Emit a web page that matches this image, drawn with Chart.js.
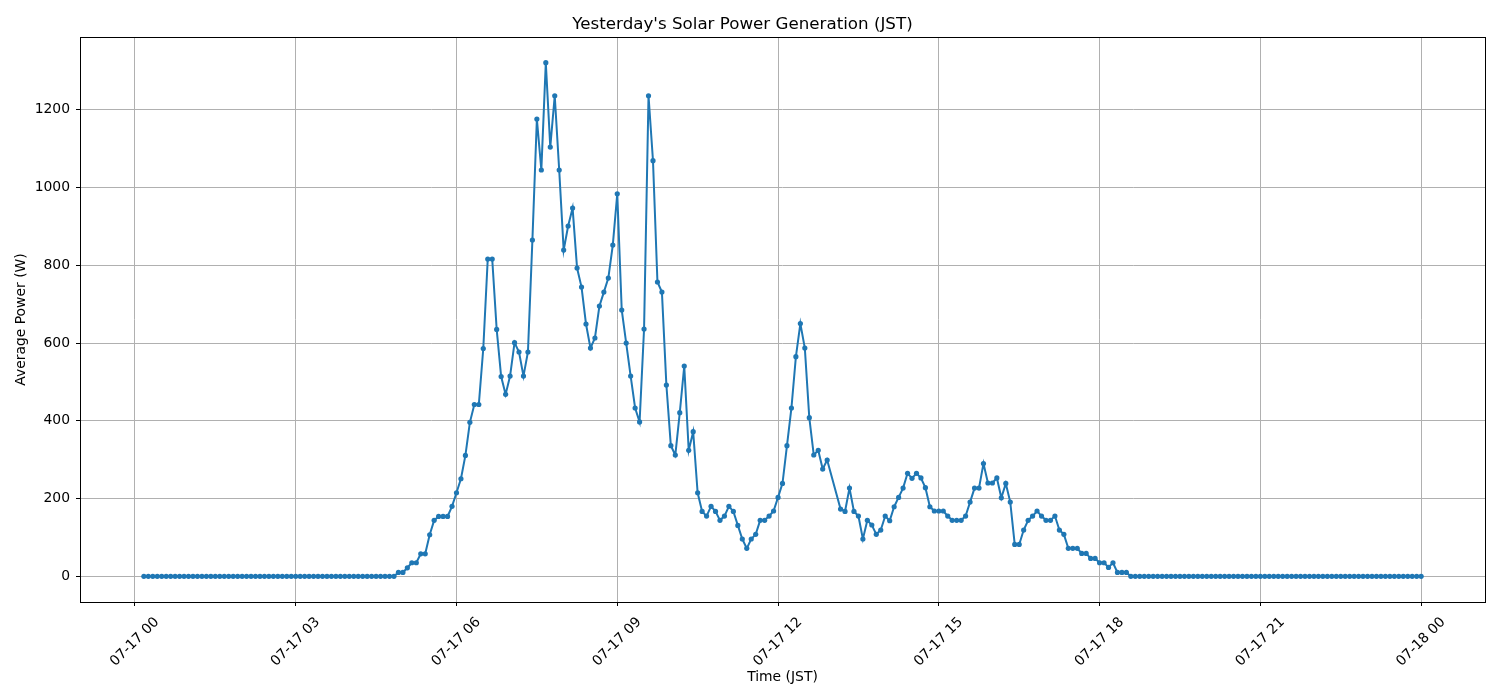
<!DOCTYPE html>
<html>
<head>
<meta charset="utf-8">
<script src="https://cdn.jsdelivr.net/npm/chart.js@4"></script>
<style>
  html, body { margin: 0; padding: 0; background: #fff; }
  canvas { display: block; }
</style>
</head>
<body>
<canvas id="solarChart" width="1500" height="700"></canvas>
<script>
// 5-minute averages for 07-17 (JST), one hour per line
const times = [
  '00:10','00:15','00:20','00:25','00:30','00:35','00:40','00:45','00:50','00:55',
  '01:00','01:05','01:10','01:15','01:20','01:25','01:30','01:35','01:40','01:45','01:50','01:55',
  '02:00','02:05','02:10','02:15','02:20','02:25','02:30','02:35','02:40','02:45','02:50','02:55',
  '03:00','03:05','03:10','03:15','03:20','03:25','03:30','03:35','03:40','03:45','03:50','03:55',
  '04:00','04:05','04:10','04:15','04:20','04:25','04:30','04:35','04:40','04:45','04:50','04:55',
  '05:00','05:05','05:10','05:15','05:20','05:25','05:30','05:35','05:40','05:45','05:50','05:55',
  '06:00','06:05','06:10','06:15','06:20','06:25','06:30','06:35','06:40','06:45','06:50','06:55',
  '07:00','07:05','07:10','07:15','07:20','07:25','07:30','07:35','07:40','07:45','07:50','07:55',
  '08:00','08:05','08:10','08:15','08:20','08:25','08:30','08:35','08:40','08:45','08:50','08:55',
  '09:00','09:05','09:10','09:15','09:20','09:25','09:30','09:35','09:40','09:45','09:50','09:55',
  '10:00','10:05','10:10','10:15','10:20','10:25','10:30','10:35','10:40','10:45','10:50','10:55',
  '11:00','11:05','11:10','11:15','11:20','11:25','11:30','11:35','11:40','11:45','11:50','11:55',
  '12:00','12:05','12:10','12:15','12:20','12:25','12:30','12:35','12:40','12:45','12:50','12:55',
  '13:10','13:15','13:20','13:25','13:30','13:35','13:40','13:45','13:50','13:55',
  '14:00','14:05','14:10','14:15','14:20','14:25','14:30','14:35','14:40','14:45','14:50','14:55',
  '15:00','15:05','15:10','15:15','15:20','15:25','15:30','15:35','15:40','15:45','15:50','15:55',
  '16:00','16:05','16:10','16:15','16:20','16:25','16:30','16:35','16:40','16:45','16:50','16:55',
  '17:00','17:05','17:10','17:15','17:20','17:25','17:30','17:35','17:40','17:45','17:50','17:55',
  '18:00','18:05','18:10','18:15','18:20','18:25','18:30','18:35','18:40','18:45','18:50','18:55',
  '19:00','19:05','19:10','19:15','19:20','19:25','19:30','19:35','19:40','19:45','19:50','19:55',
  '20:00','20:05','20:10','20:15','20:20','20:25','20:30','20:35','20:40','20:45','20:50','20:55',
  '21:00','21:05','21:10','21:15','21:20','21:25','21:30','21:35','21:40','21:45','21:50','21:55',
  '22:00','22:05','22:10','22:15','22:20','22:25','22:30','22:35','22:40','22:45','22:50','22:55',
  '23:00','23:05','23:10','23:15','23:20','23:25','23:30','23:35','23:40','23:45','23:50','23:55',
  '24:00'
];

const power = [
  0, 0, 0, 0, 0, 0, 0, 0, 0, 0,
  0, 0, 0, 0, 0, 0, 0, 0, 0, 0, 0, 0,
  0, 0, 0, 0, 0, 0, 0, 0, 0, 0, 0, 0,
  0, 0, 0, 0, 0, 0, 0, 0, 0, 0, 0, 0,
  0, 0, 0, 0, 0, 0, 0, 0, 0, 0, 0, 10,
  10, 22, 35, 35, 58, 58, 107, 144, 154, 154, 154, 180,
  215, 251, 311, 396, 442, 442, 586, 816, 816, 635, 514, 468,
  515, 601, 577, 515, 577, 865, 1176, 1045, 1321, 1104, 1236, 1045,
  839, 901, 947, 793, 744, 649, 587, 613, 695, 731, 767, 852,
  984, 685, 600, 515, 433, 397, 636, 1236, 1069, 757, 731, 492,
  336, 312, 421, 541, 324, 372, 215, 167, 155, 180, 167, 144,
  155, 180, 167, 131, 96, 72, 96, 108, 144, 144, 155, 168,
  203, 239, 336, 433, 565, 650, 587, 408, 312, 324, 276, 299,
  173, 167, 227, 167, 155, 96, 144, 132, 108, 119,
  155, 143, 179, 203, 227, 265, 252, 265, 253, 228, 179, 168,
  168, 168, 155, 144, 144, 144, 155, 191, 227, 227, 290, 240,
  240, 253, 202, 239, 191, 82, 82, 119, 144, 155, 168, 155,
  144, 144, 155, 119, 108, 72, 72, 72, 59, 59, 46, 46,
  35, 35, 23, 35, 10, 10, 10, 0, 0, 0, 0, 0,
  0, 0, 0, 0, 0, 0, 0, 0, 0, 0, 0, 0,
  0, 0, 0, 0, 0, 0, 0, 0, 0, 0, 0, 0,
  0, 0, 0, 0, 0, 0, 0, 0, 0, 0, 0, 0,
  0, 0, 0, 0, 0, 0, 0, 0, 0, 0, 0, 0,
  0, 0, 0, 0, 0, 0, 0, 0, 0, 0, 0, 0,
  0
];

// axis ticks
const xTickMinutes = [0, 180, 360, 540, 720, 900, 1080, 1260, 1440];
const xTickLabels = ['07-17 00', '07-17 03', '07-17 06', '07-17 09', '07-17 12', '07-17 15', '07-17 18', '07-17 21', '07-18 00'];
const yTickValues = [0, 200, 400, 600, 800, 1000, 1200];

function toMinutes(t) {
  const [h, m] = t.split(':').map(Number);
  return h * 60 + m;
}

const points = times.map((t, i) => ({ x: toMinutes(t), y: power[i] }));

// black box round the plot area (matplotlib spines)
const frame = {
  id: 'frame',
  afterDraw(chart) {
    const { ctx, chartArea: a } = chart;
    ctx.save();
    ctx.strokeStyle = '#000';
    ctx.lineWidth = 1;
    ctx.strokeRect(Math.round(a.left) + 0.5, Math.round(a.top) + 0.5,
      Math.round(a.right - a.left), Math.round(a.bottom - a.top));
    ctx.restore();
  }
};

Chart.defaults.font.family = "'DejaVu Sans', sans-serif";
Chart.defaults.color = '#000';

const gridStyle = { color: '#b0b0b0', lineWidth: 1, tickLength: 4, tickColor: '#000', tickWidth: 1 };

new Chart(document.getElementById('solarChart'), {
  type: 'line',
  data: {
    datasets: [{
      data: points,
      borderColor: '#1f77b4',
      backgroundColor: '#1f77b4',
      borderWidth: 2,
      pointRadius: 2.6,
      pointBorderWidth: 0,
      fill: false,
      tension: 0
    }]
  },
  options: {
    responsive: false,
    animation: false,
    layout: { padding: { right: 15 }, autoPadding: false },
    plugins: {
      legend: { display: false },
      tooltip: { enabled: false },
      title: {
        display: true,
        text: "Yesterday's Solar Power Generation (JST)",
        font: { size: 16.7, weight: 'normal' },
        padding: { top: 15, bottom: 2 }
      }
    },
    scales: {
      x: {
        type: 'linear',
        min: -61.5,
        max: 1511.5,
        afterBuildTicks: s => { s.ticks = xTickMinutes.map(v => ({ value: v })); },
        afterFit: s => { s.height = 98; },
        ticks: {
          autoSkip: false,
          minRotation: 45,
          maxRotation: 45,
          labelOffset: 22,
          padding: 8,
          font: { size: 13.9 },
          callback: (v, i) => xTickLabels[i]
        },
        grid: gridStyle,
        border: { display: false },
        title: { display: true, text: 'Time (JST)', font: { size: 13.9 }, padding: { top: 0, bottom: 14.7 } }
      },
      y: {
        min: -66,
        max: 1387,
        afterBuildTicks: s => { s.ticks = yTickValues.map(v => ({ value: v })); },
        afterFit: s => { s.width = 80; },
        ticks: { padding: 6, font: { size: 13.9 }, callback: v => String(v) },
        grid: gridStyle,
        border: { display: false },
        title: { display: true, text: 'Average Power (W)', font: { size: 13.9 }, padding: { top: 12.7, bottom: 0 } }
      }
    }
  },
  plugins: [frame]
});
</script>
</body>
</html>
